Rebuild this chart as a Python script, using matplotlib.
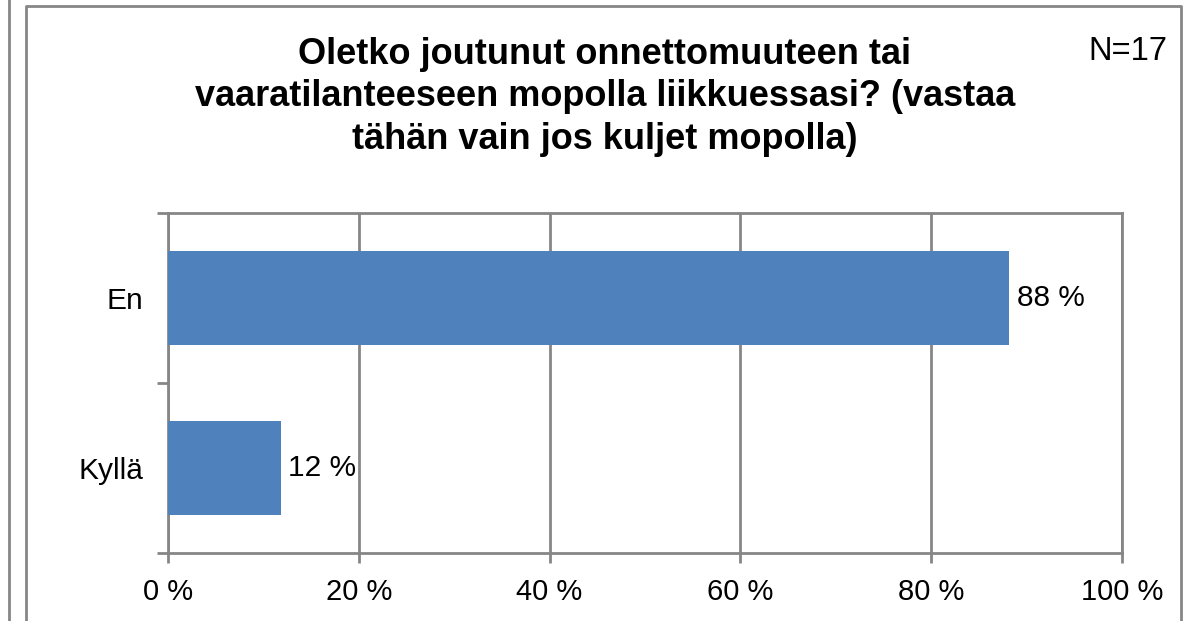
import numpy as np
import matplotlib.pyplot as plt
import matplotlib.ticker as ticker
from matplotlib.lines import Line2D

categories = ['Kyllä', 'En']
values = [11.8, 88.2]
labels = ['12 %', '88 %']
title = 'Oletko joutunut onnettomuuteen tai\nvaaratilanteeseen mopolla liikkuessasi? (vastaa\ntähän vain jos kuljet mopolla)'

plt.rcParams['font.family'] = ['Liberation Sans', 'DejaVu Sans']
grey = '#868686'

fig = plt.figure(figsize=(11.83, 6.21), dpi=100)
ax = fig.add_axes([168/1183, 1 - 553/621, (1122-168)/1183, (553-213)/621])

y = np.arange(len(categories))
ax.barh(y, values, height=0.55, color='#4F81BD', zorder=3)
for yi, v, lab in zip(y, values, labels):
    ax.text(v + 0.8, yi, lab, va='center', ha='left', fontsize=21.5)

ax.set_xlim(0, 100)
ax.set_ylim(-0.5, 1.5)
ax.xaxis.set_major_locator(ticker.MultipleLocator(20))
ax.xaxis.set_major_formatter(ticker.FuncFormatter(lambda v, p: '%d %%' % v))
ax.set_yticks(y)
ax.set_yticklabels(categories)
ax.set_yticks([-0.5, 0.5, 1.5], minor=True)
ax.tick_params(axis='y', which='major', length=0, pad=18, labelsize=21.5)
ax.tick_params(axis='y', which='minor', length=8, color=grey, width=2)
ax.tick_params(axis='x', length=7, color=grey, width=2, labelsize=21, pad=11)
ax.grid(axis='x', color=grey, linewidth=2, zorder=0)
for s in ax.spines.values():
    s.set_color(grey)
    s.set_linewidth(2)

fig.text(605/1183, 1 - 97/621, title, ha='center', va='center', fontsize=26,
         fontweight='bold', linespacing=1.27)
fig.text(1167/1183, 1 - 52/621, 'N=17', ha='right', va='center', fontsize=23.5)

# frame lines around the chart
fig.add_artist(Line2D([9/1183, 9/1183], [0, 1], color=grey, lw=2))
fig.add_artist(Line2D([26/1183, 26/1183, 1181/1183, 1181/1183],
                      [0, 1 - 6/621, 1 - 6/621, 0], color=grey, lw=2))

fig.savefig('out.png', dpi=100)
